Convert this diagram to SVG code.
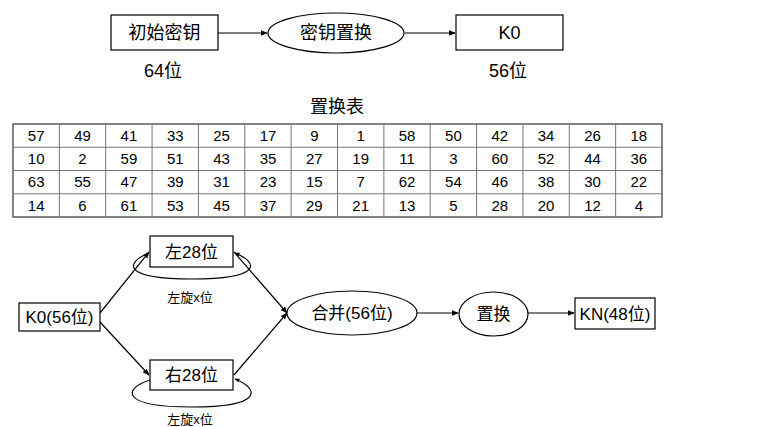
<svg xmlns="http://www.w3.org/2000/svg" width="764" height="427" viewBox="0 0 764 427">
<style>
text{font-family:"Liberation Sans","Noto Sans CJK SC",sans-serif;fill:#000;text-anchor:middle}
.n{fill:#fff;stroke:#000;stroke-width:1.2}
.t18{font-size:18px}
.t17{font-size:17px}
.t13{font-size:13px}
.num{font-size:15px}
.c{fill:none;stroke:#000;stroke-width:1.2}
.g{stroke:#777;stroke-width:1}
</style>
<defs>
<marker id="ah" viewBox="0 0 10 10" refX="9" refY="5" markerWidth="7" markerHeight="7" markerUnits="userSpaceOnUse" orient="auto">
<path d="M0,1 L10,5 L0,9 z" fill="#000"/>
</marker>
<marker id="ahs" viewBox="0 0 10 10" refX="9" refY="5" markerWidth="5" markerHeight="5" markerUnits="userSpaceOnUse" orient="auto">
<path d="M0,1 L10,5 L0,9 z" fill="#000"/>
</marker>
</defs>
<g id="connectors">
<line class="c" x1="218" y1="33" x2="267" y2="33" marker-end="url(#ah)"/>
<line class="c" x1="405" y1="33" x2="455" y2="33" marker-end="url(#ah)"/>
<line class="c" x1="100" y1="313" x2="149" y2="252" marker-end="url(#ah)"/>
<line class="c" x1="100" y1="322" x2="149" y2="375" marker-end="url(#ah)"/>
<line class="c" x1="234" y1="252" x2="287" y2="313" marker-end="url(#ah)"/>
<line class="c" x1="234" y1="375" x2="287" y2="313" marker-end="url(#ah)"/>
<path class="c" d="M149,253 C126,262 120,279 192,279 C264,279 258,262 235,253" marker-end="url(#ahs)"/>
<path class="c" d="M150,380 C124,388 118,407 192,407 C266,407 258,388 235,379" marker-end="url(#ahs)"/>
<line class="c" x1="417" y1="313" x2="458" y2="313" marker-end="url(#ah)"/>
<line class="c" x1="528" y1="313" x2="574" y2="313" marker-end="url(#ah)"/>
</g>
<g id="node-init">
<rect class="n" x="111" y="15" width="107" height="35"/>
<text class="t18" x="164.5" y="39">初始密钥</text>
</g>
<g id="node-perm1">
<ellipse class="n" cx="336" cy="33" rx="68" ry="20"/>
<text class="t18" x="336" y="39">密钥置换</text>
</g>
<g id="node-k0top">
<rect class="n" x="456" y="15" width="107" height="35"/>
<text class="t18" x="509.5" y="39">K0</text>
</g>
<text class="t18" x="163" y="77">64位</text>
<text class="t18" x="508" y="77">56位</text>
<text class="t18" x="337" y="113">置换表</text>
<g id="table">
<rect x="13" y="124" width="649" height="93" fill="#fff" stroke="#333" stroke-width="1.2"/>
<g class="g">
<line x1="13" y1="147.25" x2="662" y2="147.25"/>
<line x1="13" y1="170.5" x2="662" y2="170.5"/>
<line x1="13" y1="193.75" x2="662" y2="193.75"/>
<line x1="59.36" y1="124" x2="59.36" y2="217"/>
<line x1="105.71" y1="124" x2="105.71" y2="217"/>
<line x1="152.07" y1="124" x2="152.07" y2="217"/>
<line x1="198.43" y1="124" x2="198.43" y2="217"/>
<line x1="244.79" y1="124" x2="244.79" y2="217"/>
<line x1="291.14" y1="124" x2="291.14" y2="217"/>
<line x1="337.5" y1="124" x2="337.5" y2="217"/>
<line x1="383.86" y1="124" x2="383.86" y2="217"/>
<line x1="430.21" y1="124" x2="430.21" y2="217"/>
<line x1="476.57" y1="124" x2="476.57" y2="217"/>
<line x1="522.93" y1="124" x2="522.93" y2="217"/>
<line x1="569.29" y1="124" x2="569.29" y2="217"/>
<line x1="615.64" y1="124" x2="615.64" y2="217"/>
</g>
<g class="num">
<text x="36.2" y="141">57</text><text x="82.5" y="141">49</text><text x="128.9" y="141">41</text><text x="175.3" y="141">33</text><text x="221.6" y="141">25</text><text x="268" y="141">17</text><text x="314.3" y="141">9</text><text x="360.7" y="141">1</text><text x="407" y="141">58</text><text x="453.4" y="141">50</text><text x="499.8" y="141">42</text><text x="546.1" y="141">34</text><text x="592.5" y="141">26</text><text x="638.8" y="141">18</text>
<text x="36.2" y="164">10</text><text x="82.5" y="164">2</text><text x="128.9" y="164">59</text><text x="175.3" y="164">51</text><text x="221.6" y="164">43</text><text x="268" y="164">35</text><text x="314.3" y="164">27</text><text x="360.7" y="164">19</text><text x="407" y="164">11</text><text x="453.4" y="164">3</text><text x="499.8" y="164">60</text><text x="546.1" y="164">52</text><text x="592.5" y="164">44</text><text x="638.8" y="164">36</text>
<text x="36.2" y="187">63</text><text x="82.5" y="187">55</text><text x="128.9" y="187">47</text><text x="175.3" y="187">39</text><text x="221.6" y="187">31</text><text x="268" y="187">23</text><text x="314.3" y="187">15</text><text x="360.7" y="187">7</text><text x="407" y="187">62</text><text x="453.4" y="187">54</text><text x="499.8" y="187">46</text><text x="546.1" y="187">38</text><text x="592.5" y="187">30</text><text x="638.8" y="187">22</text>
<text x="36.2" y="210.5">14</text><text x="82.5" y="210.5">6</text><text x="128.9" y="210.5">61</text><text x="175.3" y="210.5">53</text><text x="221.6" y="210.5">45</text><text x="268" y="210.5">37</text><text x="314.3" y="210.5">29</text><text x="360.7" y="210.5">21</text><text x="407" y="210.5">13</text><text x="453.4" y="210.5">5</text><text x="499.8" y="210.5">28</text><text x="546.1" y="210.5">20</text><text x="592.5" y="210.5">12</text><text x="638.8" y="210.5">4</text>
</g>
</g>
<g id="node-k0">
<rect class="n" x="19" y="303" width="81" height="28"/>
<text class="t17" x="59.5" y="323">K0(56位)</text>
</g>
<g id="node-left">
<rect class="n" x="150" y="236" width="83" height="31"/>
<text class="t17" x="191.5" y="257.5">左28位</text>
</g>
<text class="t13" x="190" y="302">左旋x位</text>
<g id="node-right">
<rect class="n" x="150" y="360" width="83" height="30"/>
<text class="t17" x="191.5" y="381">右28位</text>
</g>
<text class="t13" x="190" y="424">左旋x位</text>
<g id="node-merge">
<ellipse class="n" cx="352" cy="313" rx="65" ry="22"/>
<text class="t17" x="352" y="319">合并(56位)</text>
</g>
<g id="node-perm2">
<ellipse class="n" cx="493.5" cy="314" rx="34.5" ry="22"/>
<text class="t17" x="493.5" y="320">置换</text>
</g>
<g id="node-kn">
<rect class="n" x="575" y="298" width="80" height="31"/>
<text class="t17" x="615" y="319.5">KN(48位)</text>
</g>
</svg>
